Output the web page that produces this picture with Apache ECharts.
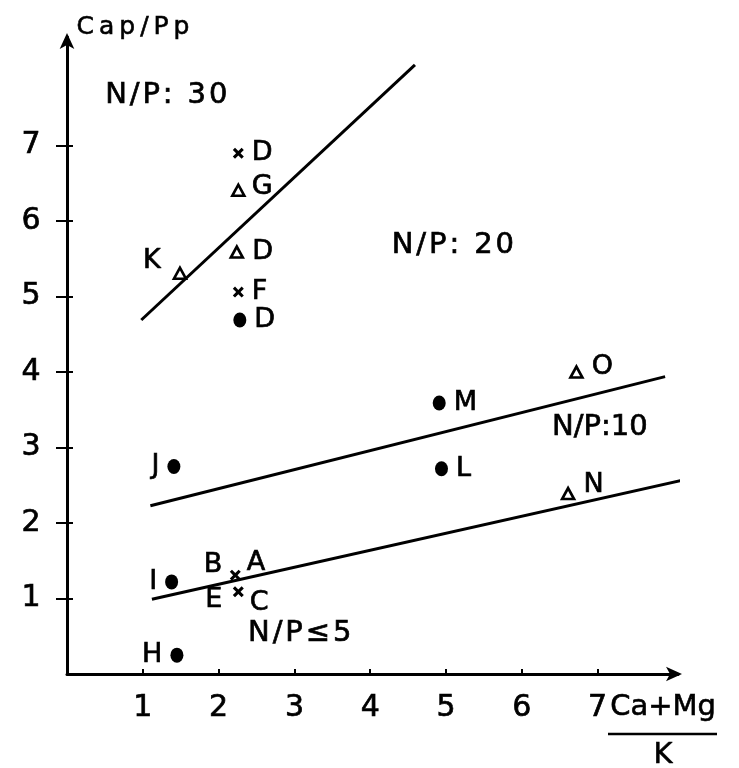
<!DOCTYPE html>
<html>
<head>
<meta charset="utf-8">
<script src="https://cdn.jsdelivr.net/npm/echarts@6/dist/echarts.min.js"></script>
<style>
html,body{margin:0;padding:0;background:#fff;}
#c{width:739px;height:768px;}
</style>
</head>
<body>
<div id="c"></div>
<script>
// ---- data ----
const xTicks = [1, 2, 3, 4, 5, 6, 7];
const yTicks = [1, 2, 3, 4, 5, 6, 7];
// [x, y, label]
const crosses = [[2.26, 6.90, 'D'], [2.26, 5.06, 'F'], [2.22, 1.31, 'A'], [2.26, 1.09, 'C']];
const crossesAlt = [[2.22, 1.31, 'B'], [2.26, 1.09, 'E']];
const triangles = [[2.26, 6.41, 'G'], [2.24, 5.59, 'D'], [6.72, 4.00, 'O'], [6.61, 2.39, 'N']];
const trianglesLeft = [[1.49, 5.31, 'K']];
const dotsRight = [[2.28, 4.69, 'D'], [4.91, 3.59, 'M'], [4.94, 2.72, 'L']];
const dotsLeft = [[1.41, 2.75, 'J'], [1.38, 1.22, 'I'], [1.45, 0.25, 'H']];
const lineNP30 = [[0.98, 4.69], [4.59, 8.07]];
const lineNP10 = [[1.10, 2.23], [7.89, 3.94]];
const lineNP5 = [[1.12, 0.99], [8.26, 2.60]];
const regions = [[1.31, 7.66, 'N/P: 30'], [5.09, 5.68, 'N/P: 20'], [7.03, 3.26, 'N/P:10'], [3.07, 0.54, 'N/P≤5']];
const yTitle = 'Cap/Pp';
const xTitleTop = 'Ca+Mg';
const xTitleBottom = 'K';

// ---- styling ----
const FONT = 'DejaVu Sans';
const INK = '#000';
const spaced = (s, sep) => s.split('').join(sep);
const ptFont = 27;
const labelOffsets = { A: [-2, -12], C: [-2, 11], B: [-5, -10], E: [-8, 8], O: [0, -5], N: [0, -9], G: [-2, -3] };
const regionStyle = {
  'N/P: 30': { size: 29, sep: '\u200A' },
  'N/P: 20': { size: 29, sep: '\u200A' },
  'N/P:10': { size: 29, sep: '' },
  'N/P≤5': { size: 29, sep: '\u200A' }
};
const txtBold = { textBorderColor: INK, textBorderWidth: 0.7 };

const xyData = arr => arr.map(p => ({ value: [p[0], p[1]], name: p[2] }));
const ptLabel = (pos) => Object.assign({
  show: true, position: pos, distance: 8, color: INK, opacity: 1,
  fontFamily: FONT, fontSize: ptFont,
  formatter: p => p.name
}, txtBold);
function withOffsets(arr) {
  return arr.map(p => ({
    value: [p[0], p[1]], name: p[2],
    label: labelOffsets[p[2]] ? { offset: labelOffsets[p[2]] } : undefined
  }));
}
const lineSeries = d => ({
  type: 'line', data: d, symbol: 'none', clip: false, silent: true,
  lineStyle: { color: INK, width: 3 }, z: 3
});
const crossPath = 'path://M0,2L2,0L5,3L8,0L10,2L7,5L10,8L8,10L5,7L2,10L0,8L3,5Z';

const chart = echarts.init(document.getElementById('c'), null, { renderer: 'canvas' });
chart.setOption({
  backgroundColor: '#fff',
  animation: false,
  grid: { left: 67, right: 61, top: 37, bottom: 94 },
  xAxis: {
    type: 'value', min: 0, max: 8.06, interval: 1,
    splitLine: { show: false },
    axisLine: { show: true, onZero: false, symbol: ['none', 'arrow'], symbolSize: [11, 16], symbolOffset: [0, 4], lineStyle: { color: INK, width: 3 } },
    axisTick: { show: true, inside: true, length: 5, customValues: xTicks, lineStyle: { color: INK, width: 2 } },
    axisLabel: Object.assign({ show: true, customValues: xTicks, margin: 19, color: INK, fontFamily: FONT, fontSize: 30 }, txtBold)
  },
  yAxis: [{
    type: 'value', min: 0, max: 8.44, interval: 1,
    splitLine: { show: false },
    axisLine: { show: true, onZero: false, symbol: ['none', 'arrow'], symbolSize: [11, 16], symbolOffset: [0, 4], lineStyle: { color: INK, width: 3 } },
    axisTick: { show: true, inside: false, length: 11, customValues: yTicks, lineStyle: { color: INK, width: 2 } },
    axisLabel: Object.assign({ show: true, customValues: yTicks, margin: 36, align: 'center', color: INK, fontFamily: FONT, fontSize: 30 }, txtBold)
  }, {
    type: 'value', min: 0, max: 8.44, interval: 1, position: 'left',
    splitLine: { show: false },
    axisLine: { show: false },
    axisTick: { show: true, inside: true, length: 6, customValues: yTicks, lineStyle: { color: INK, width: 2 } },
    axisLabel: { show: false }
  }],
  graphic: [
    { type: 'text', x: 133, y: 27, style: { text: spaced(yTitle, '\u2009'), font: '25px "DejaVu Sans"', fill: INK, stroke: INK, lineWidth: 0.6, textAlign: 'center', textVerticalAlign: 'middle' } },
    { type: 'text', x: 663, y: 707, style: { text: xTitleTop, font: '29px "DejaVu Sans"', fill: INK, stroke: INK, lineWidth: 0.6, textAlign: 'center', textVerticalAlign: 'middle' } },
    { type: 'line', shape: { x1: 608, y1: 734, x2: 717, y2: 734 }, style: { stroke: INK, lineWidth: 2.5 } },
    { type: 'text', x: 663, y: 755, style: { text: xTitleBottom, font: '29px "DejaVu Sans"', fill: INK, stroke: INK, lineWidth: 0.6, textAlign: 'center', textVerticalAlign: 'middle' } }
  ],
  series: [
    lineSeries(lineNP30),
    lineSeries(lineNP10),
    lineSeries(lineNP5),
    {
      type: 'scatter', data: withOffsets(crosses), symbol: crossPath, symbolSize: 11,
      itemStyle: { color: INK, opacity: 1 }, label: ptLabel('right'), z: 5
    },
    {
      type: 'scatter', data: withOffsets(crossesAlt), symbolSize: 0,
      itemStyle: { color: 'transparent', opacity: 1 }, label: ptLabel('left'), z: 5
    },
    {
      type: 'scatter', data: withOffsets(triangles), symbol: 'triangle', symbolSize: [12, 11],
      itemStyle: { color: '#fff', borderColor: INK, borderWidth: 2.6, opacity: 1 }, label: ptLabel('right'), z: 5
    },
    {
      type: 'scatter', data: trianglesLeft.map(p => ({ value: [p[0], p[1]], name: p[2], label: { offset: [-4, -12] } })),
      symbol: 'triangle', symbolSize: [12, 11],
      itemStyle: { color: '#fff', borderColor: INK, borderWidth: 2.6, opacity: 1 }, label: ptLabel('left'), z: 5
    },
    {
      type: 'scatter', data: xyData(dotsRight), symbol: 'circle', symbolSize: [13, 15],
      itemStyle: { color: INK, opacity: 1 }, label: ptLabel('right'), z: 5
    },
    {
      type: 'scatter', data: xyData(dotsLeft), symbol: 'circle', symbolSize: [13, 15],
      itemStyle: { color: INK, opacity: 1 }, label: ptLabel('left'), z: 5
    },
    {
      type: 'scatter', symbolSize: 0, silent: true,
      data: regions.map(p => ({
        value: [p[0], p[1]], name: p[2],
        label: { fontSize: regionStyle[p[2]].size }
      })),
      itemStyle: { color: 'transparent', opacity: 1 },
      label: Object.assign({ show: true, position: 'inside', color: INK, fontFamily: FONT, fontSize: 29,
        formatter: p => spaced(p.name, regionStyle[p.name].sep) }, txtBold),
      z: 4
    }
  ]
});
</script>
</body>
</html>
